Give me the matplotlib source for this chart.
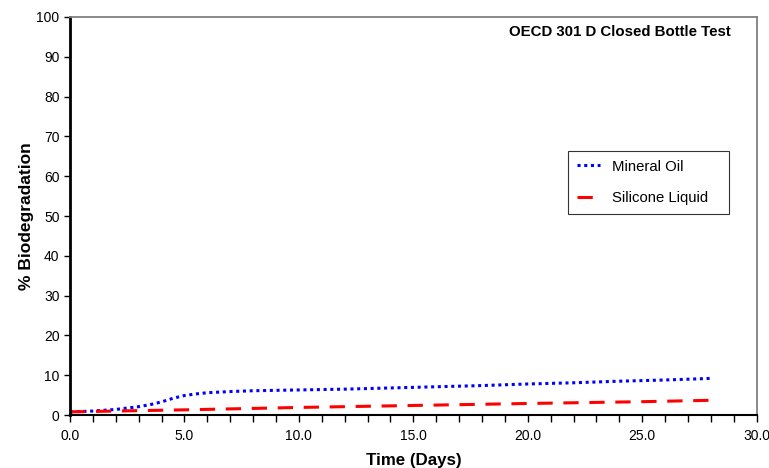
import matplotlib.pyplot as plt
from matplotlib.ticker import MultipleLocator, FormatStrFormatter

plt.rcParams['font.family'] = ['Liberation Sans', 'DejaVu Sans']

# Mineral oil readings (day, % biodegradation)
oil_days = [0, 1, 2, 3, 3.5, 4, 4.5, 5, 5.5, 6, 7, 8, 10, 12, 14, 16, 18, 20, 22, 24, 26, 28]
oil_pct = [0.8, 1.0, 1.4, 2.1, 2.6, 3.3, 4.2, 4.9, 5.3, 5.6, 5.9, 6.1, 6.3, 6.5, 6.8, 7.1, 7.4, 7.8, 8.1, 8.5, 8.8, 9.2]

# Silicone liquid readings
sil_days = [0, 5, 10, 15, 20, 25, 28]
sil_pct = [0.8, 1.3, 1.9, 2.4, 2.9, 3.35, 3.7]

fig = plt.figure(figsize=(7.69, 4.68), dpi=100)
ax = fig.add_axes([0.091, 0.1132, 0.893, 0.8505])

ax.plot(oil_days, oil_pct, color='#0000ff', lw=2.2, linestyle=(0, (1, 1.2)), label='Mineral Oil')
ax.plot(sil_days, sil_pct, color='#ff0000', lw=2.2, linestyle=(0, (5, 3.5)), label='Silicone Liquid')

ax.set_xlim(0, 30)
ax.set_ylim(0, 100)
ax.xaxis.set_major_locator(MultipleLocator(5))
ax.xaxis.set_minor_locator(MultipleLocator(1))
ax.xaxis.set_major_formatter(FormatStrFormatter('%.1f'))
ax.yaxis.set_major_locator(MultipleLocator(10))
ax.tick_params(axis='both', which='both', direction='out', labelsize=10, width=1)
ax.tick_params(axis='x', which='both', length=5, pad=5)
ax.tick_params(axis='y', which='major', length=4)

ax.spines['left'].set_linewidth(2)
ax.spines['left'].set_color('black')
ax.spines['bottom'].set_linewidth(1.5)
ax.spines['bottom'].set_color('black')
for side in ['top', 'right']:
    ax.spines[side].set_linewidth(1.3)
    ax.spines[side].set_color('#808080')

ax.set_xlabel('Time (Days)', fontsize=12.2, fontweight='bold', labelpad=7)
ax.set_ylabel('% Biodegradation', fontsize=12.5, fontweight='bold', labelpad=2)

ax.text(0.962, 0.962, 'OECD 301 D Closed Bottle Test', transform=ax.transAxes,
        ha='right', va='center', fontsize=10.8, fontweight='bold')

# extra trailing spaces widen the legend box like the original
leg = ax.legend(loc='upper left', bbox_to_anchor=(0.714, 0.683), fontsize=10.7,
                frameon=True, fancybox=False, edgecolor='black', handlelength=1.6,
                borderpad=0.6, labelspacing=1.2, handletextpad=0.75)
leg.get_texts()[1].set_text('Silicone Liquid   ')
leg.get_frame().set_linewidth(0.8)

fig.savefig('out.png', dpi=100)
